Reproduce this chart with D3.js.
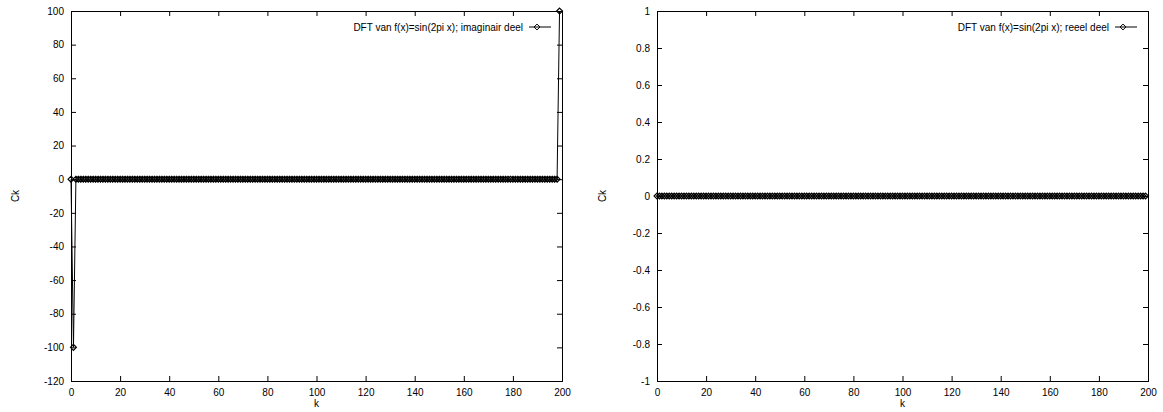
<!DOCTYPE html>
<html>
<head>
<meta charset="utf-8">
<script src="https://cdn.jsdelivr.net/npm/d3@7"></script>
<style>
  body { margin: 0; background: #fff; }
  svg { display: block; }
  text { font-family: "Liberation Sans", Arial, sans-serif; font-size: 10px; fill: #000; }
</style>
</head>
<body>
<svg id="chart" width="1163" height="412"></svg>
<script>
// k = 0..199 is the array index
const imagPart = [
  0,-100,0,0,0,0,0,0,0,0,0,0,0,0,0,0,0,0,0,0,
  0,0,0,0,0,0,0,0,0,0,0,0,0,0,0,0,0,0,0,0,
  0,0,0,0,0,0,0,0,0,0,0,0,0,0,0,0,0,0,0,0,
  0,0,0,0,0,0,0,0,0,0,0,0,0,0,0,0,0,0,0,0,
  0,0,0,0,0,0,0,0,0,0,0,0,0,0,0,0,0,0,0,0,
  0,0,0,0,0,0,0,0,0,0,0,0,0,0,0,0,0,0,0,0,
  0,0,0,0,0,0,0,0,0,0,0,0,0,0,0,0,0,0,0,0,
  0,0,0,0,0,0,0,0,0,0,0,0,0,0,0,0,0,0,0,0,
  0,0,0,0,0,0,0,0,0,0,0,0,0,0,0,0,0,0,0,0,
  0,0,0,0,0,0,0,0,0,0,0,0,0,0,0,0,0,0,0,100
];
const realPart = [
  0,0,0,0,0,0,0,0,0,0,0,0,0,0,0,0,0,0,0,0,
  0,0,0,0,0,0,0,0,0,0,0,0,0,0,0,0,0,0,0,0,
  0,0,0,0,0,0,0,0,0,0,0,0,0,0,0,0,0,0,0,0,
  0,0,0,0,0,0,0,0,0,0,0,0,0,0,0,0,0,0,0,0,
  0,0,0,0,0,0,0,0,0,0,0,0,0,0,0,0,0,0,0,0,
  0,0,0,0,0,0,0,0,0,0,0,0,0,0,0,0,0,0,0,0,
  0,0,0,0,0,0,0,0,0,0,0,0,0,0,0,0,0,0,0,0,
  0,0,0,0,0,0,0,0,0,0,0,0,0,0,0,0,0,0,0,0,
  0,0,0,0,0,0,0,0,0,0,0,0,0,0,0,0,0,0,0,0,
  0,0,0,0,0,0,0,0,0,0,0,0,0,0,0,0,0,0,0,0
];

const xTicks = [0, 20, 40, 60, 80, 100, 120, 140, 160, 180, 200];
const yTicksLeft = [-120, -100, -80, -60, -40, -20, 0, 20, 40, 60, 80, 100];
const yTicksRight = [-1, -0.8, -0.6, -0.4, -0.2, 0, 0.2, 0.4, 0.6, 0.8, 1];

const titleLeft = "DFT van f(x)=sin(2pi x); imaginair deel";
const titleRight = "DFT van f(x)=sin(2pi x); reeel deel";

const svg = d3.select("#chart");
const tick = 5;
const diamond = d3.symbol().type(d3.symbolDiamond2).size(22);

function drawPanel(opts) {
  const w = opts.x1 - opts.x0, h = opts.y1 - opts.y0;
  const g = svg.append("g").attr("transform", `translate(${opts.x0},${opts.y0})`);

  const x = d3.scaleLinear().domain([0, 200]).range([0, w]);
  const y = d3.scaleLinear().domain(d3.extent(opts.yTicks)).range([h, 0]);

  // gnuplot style: ticks inward, mirrored on top/right
  g.append("g").attr("transform", `translate(0,${h})`)
    .call(d3.axisBottom(x).tickValues(xTicks).tickSize(-tick).tickPadding(8));
  g.append("g")
    .call(d3.axisTop(x).tickValues(xTicks).tickSize(-tick).tickFormat(""));
  g.append("g")
    .call(d3.axisLeft(y).tickValues(opts.yTicks).tickSize(-tick).tickPadding(7)
      .tickFormat(d => String(+d.toFixed(1))));
  g.append("g").attr("transform", `translate(${w},0)`)
    .call(d3.axisRight(y).tickValues(opts.yTicks).tickSize(-tick).tickFormat(""));

  g.selectAll(".domain").attr("stroke", "#000").attr("stroke-width", 1);
  g.selectAll(".tick line").attr("stroke", "#000");
  g.selectAll(".tick text").attr("font-size", 10).attr("font-family", null).attr("fill", "#000");

  const line = d3.line().x((d, i) => x(i)).y(d => y(d));
  g.append("path").datum(opts.values)
    .attr("fill", "none")
    .attr("stroke", "#000")
    .attr("stroke-width", 1)
    .attr("d", line);

  g.selectAll(".pt").data(opts.values).join("path")
    .attr("class", "pt")
    .attr("transform", (d, i) => `translate(${x(i)},${y(d)})`)
    .attr("d", diamond)
    .attr("fill", "none")
    .attr("stroke", "#000")
    .attr("stroke-width", 1.2);

  // axis titles
  g.append("text")
    .attr("transform", `translate(${opts.ckX - opts.x0},${h / 2}) rotate(-90)`)
    .attr("text-anchor", "middle")
    .attr("dy", "0.35em")
    .text("Ck");
  g.append("text")
    .attr("x", w / 2).attr("y", h + 26)
    .attr("text-anchor", "middle")
    .text("k");

  // key
  const ky = 16;
  g.append("text")
    .attr("x", w - 39).attr("y", ky)
    .attr("dy", "0.35em")
    .attr("text-anchor", "end")
    .text(opts.title);
  g.append("line")
    .attr("x1", w - 33).attr("x2", w - 11)
    .attr("y1", ky).attr("y2", ky)
    .attr("stroke", "#000");
  g.append("path")
    .attr("transform", `translate(${w - 25},${ky})`)
    .attr("d", diamond)
    .attr("fill", "none")
    .attr("stroke", "#000");
}

drawPanel({ x0: 71, x1: 562, y0: 11, y1: 381, ckX: 15, yTicks: yTicksLeft, values: imagPart, title: titleLeft });
drawPanel({ x0: 657, x1: 1148, y0: 11, y1: 381, ckX: 602, yTicks: yTicksRight, values: realPart, title: titleRight });
</script>
</body>
</html>
